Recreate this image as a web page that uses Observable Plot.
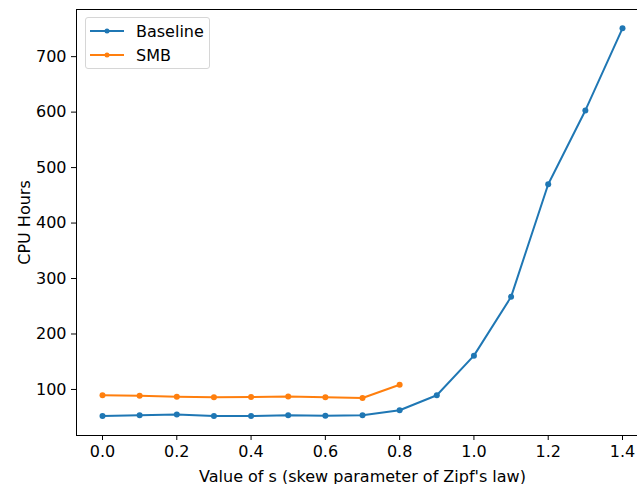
<!DOCTYPE html>
<html>
<head>
<meta charset="utf-8">
<script src="https://cdn.jsdelivr.net/npm/d3@7"></script>
<script src="https://cdn.jsdelivr.net/npm/@observablehq/plot@0.6"></script>
<style>
  html, body { margin: 0; padding: 0; background: #fff; overflow: hidden; }
  #wrap { position: relative; width: 637px; height: 484px; overflow: hidden; font-family: "DejaVu Sans", sans-serif; }
  #wrap > svg { display: block; max-width: none !important; overflow: hidden; }
  #wrap > svg text { font-family: "DejaVu Sans", sans-serif !important; font-size: 16px !important; }
  #legend { position: absolute; left: 85px; top: 17px; width: 125px; height: 52px; box-sizing: border-box;
    border: 1px solid #d6d6d6; border-radius: 3px; background: rgba(255,255,255,0.8); font-size: 16px; color: #000; }
  .item { position: absolute; left: 0; height: 16px; display: flex; align-items: center; }
  .item svg { margin-left: 4px; }
  .item span { margin-left: 12px; }
</style>
</head>
<body>
<div id="wrap"></div>
<script>
const sValues = [0.0, 0.1, 0.2, 0.3, 0.4, 0.5, 0.6, 0.7, 0.8, 0.9, 1.0, 1.1, 1.2, 1.3, 1.4];
const baseline = [52, 53.5, 55, 52, 52, 53.5, 52.5, 53.5, 62.5, 89.5, 161, 267, 470, 603, 751];
const smbS = [0.0, 0.1, 0.2, 0.3, 0.4, 0.5, 0.6, 0.7, 0.8];
const smb = [89.5, 88.5, 87, 86, 86.5, 87.5, 86, 84.5, 108.5];
const seriesNames = ["Baseline", "SMB"];
const seriesColors = ["#1f77b4", "#ff7f0e"];
const xTicks = [0.0, 0.2, 0.4, 0.6, 0.8, 1.0, 1.2, 1.4];
const yTicks = [100, 200, 300, 400, 500, 600, 700];

const data = [
  ...sValues.map((s, i) => ({s, v: baseline[i], series: "Baseline"})),
  ...smbS.map((s, i) => ({s, v: smb[i], series: "SMB"}))
];

const chart = Plot.plot({
  width: 637,
  height: 484,
  marginLeft: 76,
  marginRight: -11,
  marginTop: 9,
  marginBottom: 49,
  style: {fontFamily: "DejaVu Sans, sans-serif", fontSize: "16px", color: "#000", background: "#fff"},
  x: {domain: [-0.07, 1.47], range: [76, 648]},
  y: {domain: [17, 785]},
  color: {domain: seriesNames, range: seriesColors},
  marks: [
    Plot.line(data, {x: "s", y: "v", z: "series", stroke: "series", strokeWidth: 2}),
    Plot.dot(data, {x: "s", y: "v", fill: "series", r: 3}),
    Plot.frame({stroke: "#000", strokeWidth: 1}),
    Plot.axisX({ticks: xTicks, tickFormat: d => d.toFixed(1), tickSize: 5, tickPadding: 5,
      label: "Value of s (skew parameter of Zipf's law)", labelAnchor: "center", labelOffset: 46, labelArrow: "none"}),
    Plot.axisY({ticks: yTicks, tickSize: 5, tickPadding: 5,
      label: "CPU Hours", labelAnchor: "center", labelOffset: 58, labelArrow: "none"})
  ]
});
const wrap = document.getElementById("wrap");
wrap.appendChild(chart);

const legend = document.createElement("div");
legend.id = "legend";
seriesNames.forEach((name, i) => {
  const item = document.createElement("div");
  item.className = "item";
  item.style.top = (5 + i * 24) + "px";
  item.innerHTML = `<svg width="34" height="10"><line x1="0" x2="34" y1="5" y2="5" stroke="${seriesColors[i]}" stroke-width="2"/><circle cx="17" cy="5" r="2.5" fill="${seriesColors[i]}"/></svg><span>${name}</span>`;
  legend.appendChild(item);
});
wrap.appendChild(legend);
</script>
</body>
</html>
